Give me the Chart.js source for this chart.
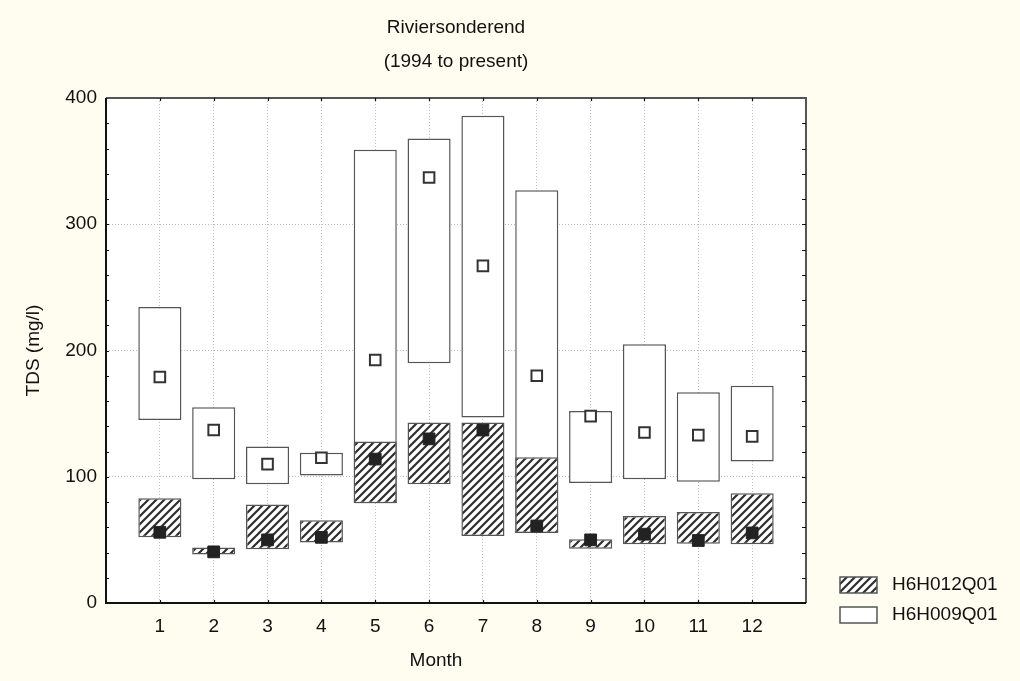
<!DOCTYPE html>
<html lang="en">
<head>
  <meta charset="UTF-8">
  <title>Riviersonderend TDS</title>
  <script src="https://cdn.jsdelivr.net/npm/chart.js"></script>
  <style>
    html, body { margin: 0; padding: 0; background: #fffcf0; }
    #wrap { width: 1020px; height: 681px; }
  </style>
</head>
<body>
  <div id="wrap"><canvas id="myChart" width="1020" height="681"></canvas></div>

  <script>
    // monthly TDS ranges (min / max box) and median marker
    const months = [1, 2, 3, 4, 5, 6, 7, 8, 9, 10, 11, 12];
    const h012Min = [52, 38.5, 42.5, 48, 79, 94, 53, 55.5, 43, 46.5, 47, 46.5];
    const h012Max = [83, 44, 78, 65.5, 128, 143, 143, 115.5, 50.5, 69, 72, 87];
    const h012Med = [56, 40.5, 50, 52, 114, 130, 137, 61, 50, 54.5, 49.5, 55.5];
    const h009Min = [145, 98, 94, 101, 79, 190, 147, 55.5, 95, 98, 96, 112];
    const h009Max = [234.5, 155, 124, 119, 359, 368, 386, 327, 152, 205, 167, 172];
    const h009Med = [179, 137, 110, 115, 192.5, 337, 267, 180, 148, 135, 133, 132];
    const yTicks = [0, 100, 200, 300, 400];

    const FONT = 'Arial, "Liberation Sans", sans-serif';
    const FS = 19;

    // diagonal hatch fill
    function makeHatch() {
      const c = document.createElement('canvas');
      c.width = 8; c.height = 8;
      const g = c.getContext('2d');
      g.fillStyle = '#ffffff';
      g.fillRect(0, 0, 8, 8);
      g.strokeStyle = '#2e2e2e';
      g.lineWidth = 2.2;
      g.beginPath();
      g.moveTo(-2, 10); g.lineTo(10, -2);
      g.moveTo(-6, 6); g.lineTo(6, -6);
      g.moveTo(2, 14); g.lineTo(14, 2);
      g.stroke();
      return g.createPattern(c, 'repeat');
    }
    const hatch = makeHatch();

    const boxes = (lo, hi) => months.map((m, i) => ({ x: m, y: [lo[i], hi[i]] }));
    const points = (v) => months.map((m, i) => ({ x: m, y: v[i] }));

    // background, titles, frame with inward ticks, legend
    const decor = {
      id: 'decor',
      beforeDraw(chart) {
        const { ctx, chartArea: a } = chart;
        ctx.save();
        ctx.fillStyle = '#fffcf0';
        ctx.fillRect(0, 0, chart.width, chart.height);
        ctx.fillStyle = '#ffffff';
        ctx.fillRect(a.left, a.top, a.right - a.left, a.bottom - a.top);
        ctx.restore();
      },
      afterDraw(chart) {
        const { ctx, chartArea: a, scales } = chart;
        const x = scales.x, y = scales.y;
        ctx.save();
        ctx.fillStyle = '#111';
        ctx.font = FS + 'px ' + FONT;
        ctx.textAlign = 'center';
        ctx.textBaseline = 'middle';
        const cx = (a.left + a.right) / 2;
        ctx.fillText('Riviersonderend', cx, 28);
        ctx.fillText('(1994 to present)', cx, 62);
        ctx.fillText('Month', 436, 661);

        // frame
        ctx.strokeStyle = '#555';
        ctx.lineWidth = 2;
        ctx.beginPath();
        ctx.moveTo(a.left, a.top); ctx.lineTo(a.right, a.top); ctx.lineTo(a.right, a.bottom);
        ctx.stroke();
        ctx.strokeStyle = '#111';
        ctx.beginPath();
        ctx.moveTo(a.left, a.top); ctx.lineTo(a.left, a.bottom); ctx.lineTo(a.right, a.bottom);
        ctx.stroke();

        // inward ticks
        ctx.lineWidth = 1.2;
        ctx.beginPath();
        for (let v = 20; v < 400; v += 20) {
          const py = Math.round(y.getPixelForValue(v)) + 0.5;
          ctx.moveTo(a.left, py); ctx.lineTo(a.left + 3, py);
          ctx.moveTo(a.right, py); ctx.lineTo(a.right - 4, py);
        }
        for (let m = 1; m <= 12; m++) {
          const px = Math.round(x.getPixelForValue(m)) + 0.5;
          ctx.moveTo(px, a.bottom); ctx.lineTo(px, a.bottom - 3);
          ctx.moveTo(px, a.top); ctx.lineTo(px, a.top + 3);
        }
        ctx.stroke();

        // legend
        const items = [chart.data.datasets[1], chart.data.datasets[0]];
        items.forEach((ds, i) => {
          const ly = 577 + i * 30;
          ctx.fillStyle = ds.backgroundColor;
          ctx.fillRect(840, ly, 37, 16);
          ctx.strokeStyle = '#555';
          ctx.lineWidth = 1.5;
          ctx.strokeRect(840, ly, 37, 16);
          ctx.fillStyle = '#111';
          ctx.textAlign = 'left';
          ctx.fillText(ds.label, 892, ly + 8);
        });
        ctx.restore();
      }
    };

    const ctx = document.getElementById('myChart').getContext('2d');
    const myChart = new Chart(ctx, {
      type: 'bar',
      data: {
        datasets: [
          {
            label: 'H6H009Q01',
            data: boxes(h009Min, h009Max),
            backgroundColor: '#ffffff',
            borderColor: '#555',
            borderWidth: 1.5,
            borderSkipped: false,
            order: 3
          },
          {
            label: 'H6H012Q01',
            data: boxes(h012Min, h012Max),
            backgroundColor: hatch,
            borderColor: '#555',
            borderWidth: 1.5,
            borderSkipped: false,
            order: 2
          },
          {
            type: 'scatter',
            label: 'H6H009Q01 median',
            data: points(h009Med),
            pointStyle: 'rect',
            pointRadius: 7.5,
            backgroundColor: '#ffffff',
            borderColor: '#333',
            borderWidth: 2,
            order: 1
          },
          {
            type: 'scatter',
            label: 'H6H012Q01 median',
            data: points(h012Med),
            pointStyle: 'rect',
            pointRadius: 8.3,
            backgroundColor: '#222',
            borderColor: '#222',
            borderWidth: 1,
            order: 0
          }
        ]
      },
      plugins: [decor],
      options: {
        responsive: false,
        animation: false,
        grouped: false,
        barPercentage: 0.8,
        categoryPercentage: 1,
        layout: { padding: { left: 0, top: 98, right: 214, bottom: 0 } },
        plugins: {
          legend: { display: false },
          tooltip: { enabled: false },
          title: { display: false }
        },
        scales: {
          x: {
            type: 'linear',
            min: 0,
            max: 13,
            offset: false,
            afterFit: (s) => { s.height = 78; },
            ticks: {
              stepSize: 1,
              padding: 12,
              color: '#111',
              font: { family: FONT, size: FS },
              callback: (v) => (v >= 1 && v <= 12 ? String(v) : '')
            },
            grid: { offset: false, color: '#bdbdbd', drawTicks: false },
            border: { display: false, dash: [1, 2] }
          },
          y: {
            min: 0,
            max: 400,
            afterFit: (s) => { s.width = 106; },
            afterBuildTicks: (s) => { s.ticks = yTicks.map(v => ({ value: v })); },
            ticks: {
              padding: 9,
              color: '#111',
              font: { family: FONT, size: FS }
            },
            grid: { color: '#bdbdbd', drawTicks: false },
            border: { display: false, dash: [1, 2] },
            title: {
              display: true,
              text: 'TDS (mg/l)',
              color: '#111',
              font: { family: FONT, size: FS },
              padding: { top: 22, bottom: 0 }
            }
          }
        }
      }
    });
  </script>
</body>
</html>
